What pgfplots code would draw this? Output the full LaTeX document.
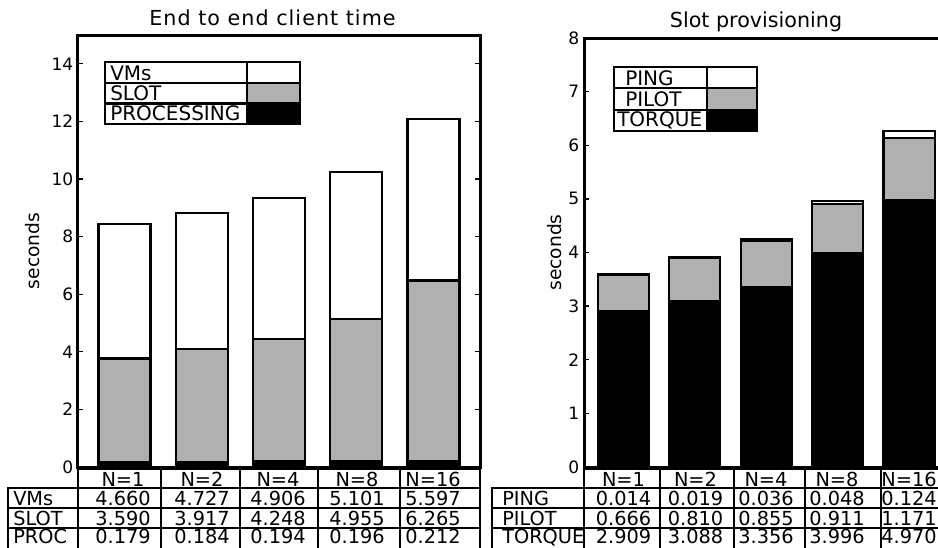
\documentclass[border=0pt]{standalone}
\usepackage{fontspec}
\setmainfont{DejaVu Sans}
\usepackage{pgfplots}
\pgfplotsset{compat=1.18}
\definecolor{slotgray}{RGB}{176,176,176}
\newcommand{\tabfont}{\fontsize{14.5}{16}\selectfont}
\newcommand{\legfont}{\fontsize{15}{17}\selectfont}
\newcommand{\titfont}{\fontsize{15.5}{18}\selectfont}
\pgfplotsset{
  myaxis/.style={
    anchor=south west, scale only axis, ybar stacked,
    xtick=\empty, ytick pos=both, yticklabel pos=left,
    tick align=inside, major tick length=4pt,
    axis line style={line width=2.25pt},
    tick style={line width=1pt, black},
    /pgf/number format/assume math mode=true,
    tick label style={font=\fontsize{12.8}{15}\selectfont},
    ylabel={seconds},
  },
  mybar/.style={draw=black, line width=1.7pt},
}
\begin{document}
\begin{tikzpicture}
\useasboundingbox (0,0) rectangle (703.5pt,410.25pt);
\clip (0,0) rectangle (703.5pt,410.25pt);

% ---------------- Left chart ----------------
\begin{axis}[myaxis, at={(58.5pt,60pt)}, width=301.5pt, height=324pt,
  bar width=0.673, xmin=-0.6, xmax=4.6, ymin=0, ymax=15, ytick={0,2,...,14},
  ylabel style={font=\fontsize{14}{16}\selectfont, at={(axis description cs:-0.112,0.5)}, anchor=center}]
\addplot[mybar, fill=black] coordinates {(0,0.179) (1,0.184) (2,0.194) (3,0.196) (4,0.212)};
\addplot[mybar, fill=slotgray] coordinates {(0,3.590) (1,3.917) (2,4.248) (3,4.955) (4,6.265)};
\addplot[mybar, fill=white] coordinates {(0,4.660) (1,4.727) (2,4.906) (3,5.101) (4,5.597)};
\end{axis}

% ---------------- Right chart ----------------
\begin{axis}[myaxis, at={(438pt,60pt)}, width=276pt, height=321.75pt,
  bar width=0.714, xmin=-0.55, xmax=4.6, ymin=0, ymax=8, ytick={0,1,...,8},
  ylabel style={font=\fontsize{14}{16}\selectfont, at={(axis description cs:-0.079,0.5)}, anchor=center}]
\addplot[mybar, fill=black] coordinates {(0,2.909) (1,3.088) (2,3.356) (3,3.996) (4,4.970)};
\addplot[mybar, fill=slotgray] coordinates {(0,0.666) (1,0.810) (2,0.855) (3,0.911) (4,1.171)};
\addplot[mybar, fill=white] coordinates {(0,0.014) (1,0.019) (2,0.036) (3,0.048) (4,0.124)};
\end{axis}

\begin{scope}[x=0.75pt, y=-0.75pt, shift={(0pt,410.25pt)}, every node/.style={inner sep=0pt}]
% titles
\node[anchor=base, font=\titfont\addfontfeatures{LetterSpace=5}] at (272.5,25.5) {End to end client time};
\node[anchor=base, font=\titfont] at (756,27.5) {Slot provisioning};

% ---- left legend
\fill[white] (247,62) rectangle (300,83);
\fill[slotgray] (247,83) rectangle (300,103.5);
\fill[black] (247,103.5) rectangle (300,124);
\draw[line width=1.6pt] (105,62) rectangle (300,124);
\draw[line width=1.6pt] (105,83) -- (300,83) (105,103.5) -- (300,103.5) (247,62) -- (247,124);
\node[anchor=base west, font=\legfont] at (110,80.5) {VMs};
\node[anchor=base west, font=\legfont] at (110,100.5) {SLOT};
\node[anchor=base west, font=\legfont] at (110,121) {PROCESSING};

% ---- right legend
\fill[white] (707,67) rectangle (757,88.3);
\fill[slotgray] (707,88.3) rectangle (757,109.6);
\fill[black] (707,109.6) rectangle (757,131);
\draw[line width=1.6pt] (614,67) rectangle (757,131);
\draw[line width=1.6pt] (614,88.3) -- (757,88.3) (614,109.6) -- (757,109.6) (707,67) -- (707,131);
\node[anchor=base west, font=\legfont] at (625,85.5) {PING};
\node[anchor=base west, font=\legfont] at (625,106.5) {PILOT};
\node[anchor=base west, font=\legfont] at (617,127) {TORQUE};

% ---- left table
\draw[line width=1.6pt] (78,469) rectangle (480,560);
\draw[line width=1.6pt] (8,488) rectangle (480,560);
\draw[line width=1.6pt] (8,508) -- (480,508) (8,528) -- (480,528);
\foreach \xx in {161,240,318,400} {\draw[line width=1.6pt] (\xx,469) -- (\xx,560);}
\foreach \lab/\cx in {N=1/123,N=2/202,N=4/278,N=8/357,N=16/433}
  {\node[anchor=base, font=\tabfont] at (\cx,486.5) {\lab};}
\foreach \v/\cx in {4.660/123,4.727/202,4.906/278,5.101/357,5.597/433}
  {\node[anchor=base, font=\tabfont] at (\cx,505.5) {\v};}
\foreach \v/\cx in {3.590/123,3.917/202,4.248/278,4.955/357,6.265/433}
  {\node[anchor=base, font=\tabfont] at (\cx,525.5) {\v};}
\foreach \v/\cx in {0.179/123,0.184/202,0.194/278,0.196/357,0.212/433}
  {\node[anchor=base, font=\tabfont, text depth=0pt] at (\cx,543) {\v};}
\node[anchor=base west, font=\tabfont] at (13,505.5) {VMs};
\node[anchor=base west, font=\tabfont] at (13,525.5) {SLOT};
\node[anchor=base west, font=\tabfont, text depth=0pt] at (13,543) {PROC};

% ---- right table
\draw[line width=1.6pt] (584,469) rectangle (952,560);
\draw[line width=1.6pt] (492,488) rectangle (952,560);
\draw[line width=1.6pt] (492,508) -- (952,508) (492,528) -- (952,528);
\foreach \xx in {660,734,805,881} {\draw[line width=1.6pt] (\xx,469) -- (\xx,560);}
\foreach \lab/\cx in {N=1/623.5,N=2/695.5,N=4/766,N=8/837,N=16/909}
  {\node[anchor=base, font=\tabfont] at (\cx,486.5) {\lab};}
\foreach \v/\cx in {0.014/623.5,0.019/695.5,0.036/766,0.048/837,0.124/909}
  {\node[anchor=base, font=\tabfont] at (\cx,505.5) {\v};}
\foreach \v/\cx in {0.666/623.5,0.810/695.5,0.855/766,0.911/837,1.171/909}
  {\node[anchor=base, font=\tabfont] at (\cx,525.5) {\v};}
\foreach \v/\cx in {2.909/623.5,3.088/695.5,3.356/766,3.996/837,4.970/909}
  {\node[anchor=base, font=\tabfont, text depth=0pt] at (\cx,543) {\v};}
\node[anchor=base west, font=\tabfont] at (502,505.5) {PING};
\node[anchor=base west, font=\tabfont] at (502,525.5) {PILOT};
\node[anchor=base west, font=\tabfont, text depth=0pt] at (502,543) {TORQUE};
\end{scope}
\end{tikzpicture}
\end{document}
